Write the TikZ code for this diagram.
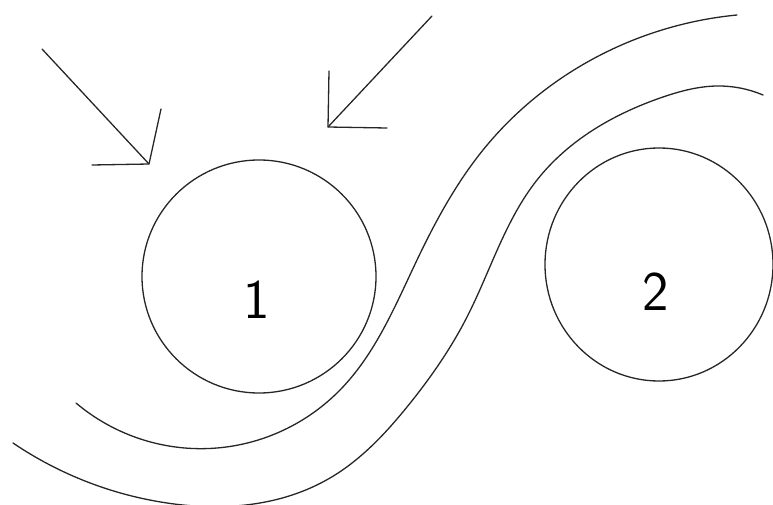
\documentclass[tikz,border=0pt]{standalone}
\usetikzlibrary{shapes.geometric,hobby}
\begin{document}
\begin{tikzpicture}[x=1pt,y=-1pt,
  ink/.style={line width=1.3pt,draw=black!85,line cap=round,line join=round},
  ball/.style={ink,ellipse,inner sep=0pt,minimum width=234pt,minimum height=233pt},
  num/.style={font=\sffamily\fontsize{56}{56}\selectfont,inner sep=0pt}]
\useasboundingbox (0,0) rectangle (773,505);
\node[ball] (c1) at (259,276.5) {};
\node[ball,minimum width=228pt] (c2) at (659,264.5) {};
\node[num] (n1) at (257,300) {1};
\node[num] (n2) at (656,292) {2};
% arrow 1
\coordinate (a1s) at (42,49);
\coordinate (a1t) at (149,164);
\coordinate (a1h) at (92,165);
\coordinate (a1v) at (161,109);
\draw[ink] (a1s) -- (a1t);
\draw[ink] (a1h) -- (a1t) -- (a1v);
% arrow 2
\coordinate (a2s) at (432,16);
\coordinate (a2t) at (328,127);
\coordinate (a2h) at (387,128);
\coordinate (a2v) at (329,71);
\draw[ink] (a2s) -- (a2t);
\draw[ink] (a2h) -- (a2t) -- (a2v);
% inner S curve
\draw[ink,use Hobby shortcut] (76,403) .. (217,448) .. (340,390) .. (417,260) .. (483,150) .. (617,47) .. (737,15);
% outer S curve
\draw[ink,use Hobby shortcut] (13,443) .. (167,503) .. (330,478) .. (407,407) .. (467,317) .. (537,180) .. (663,97) .. (717,86) .. (763,95);
\end{tikzpicture}
\end{document}
